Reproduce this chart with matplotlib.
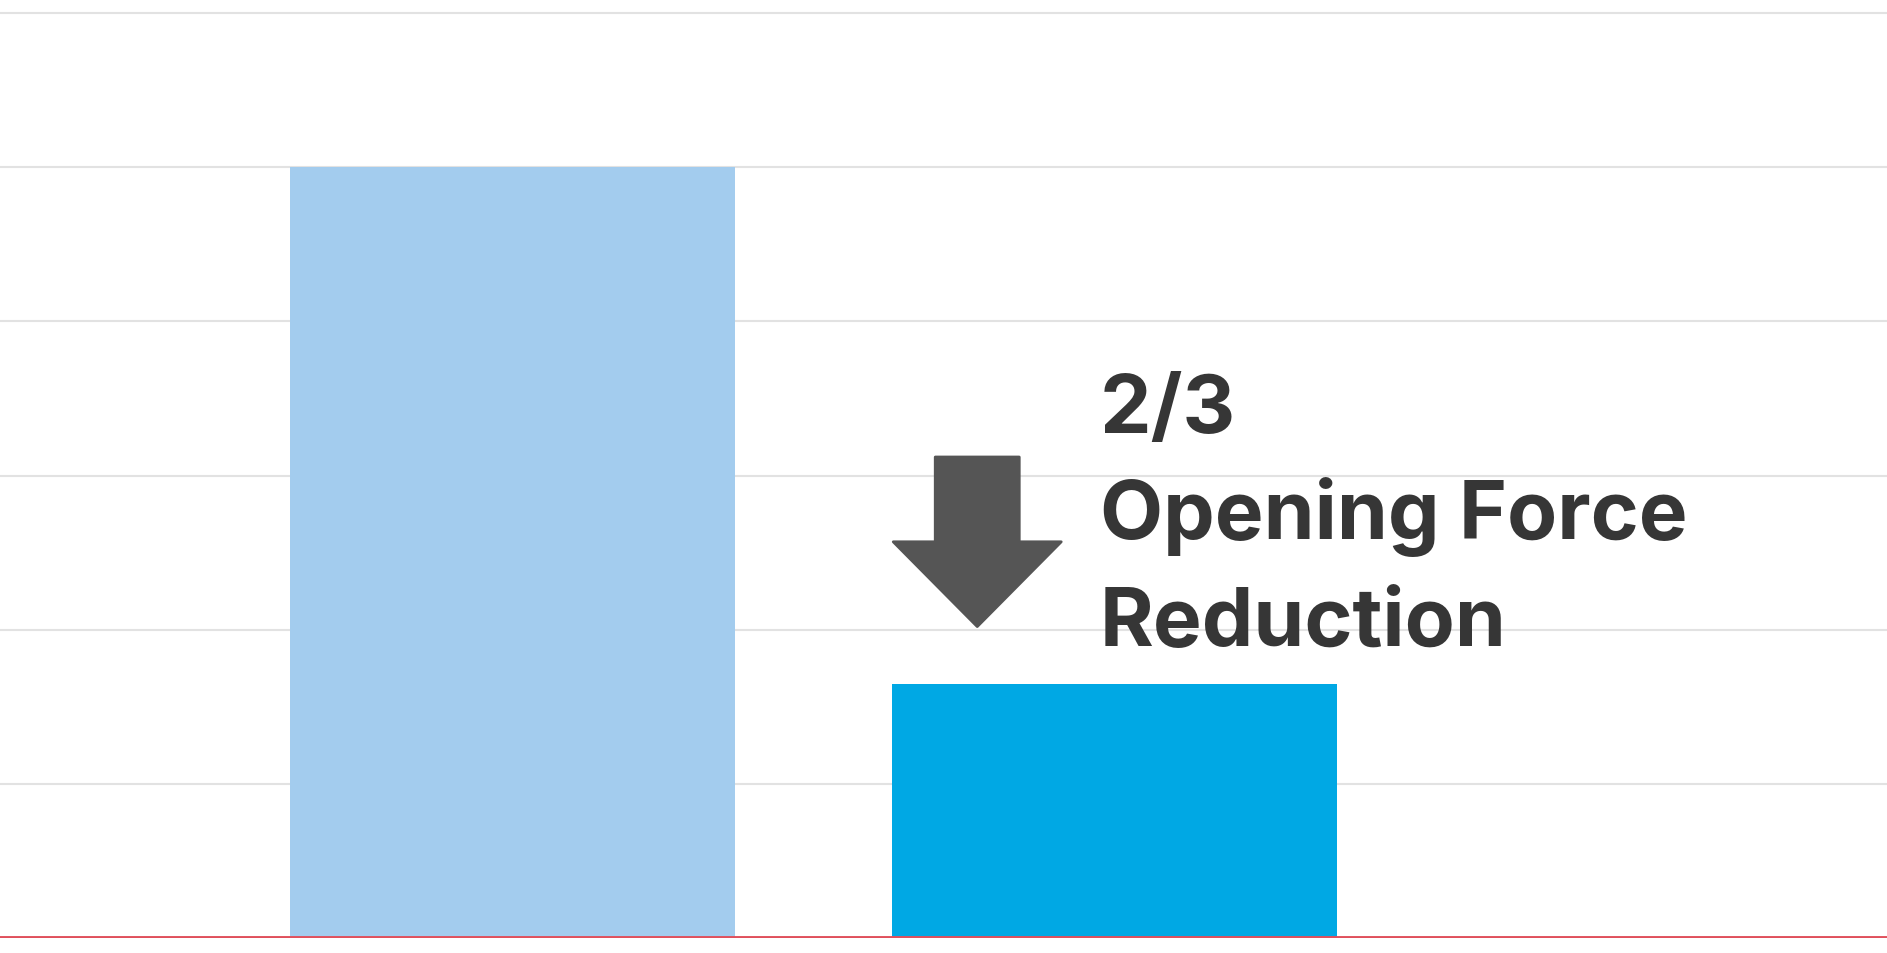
import matplotlib
matplotlib.use("Agg")
import matplotlib.pyplot as plt
from matplotlib.patches import Polygon

# data
categories = ["Before", "After"]
values = [5.0, 1.65]
bar_colors = ["#A3CCEE", "#00A8E4"]
annotation_lines = ["2/3", "Opening Force", "Reduction"]

W, H, DPI = 1887, 954, 100
fig = plt.figure(figsize=(W / DPI, H / DPI), dpi=DPI)
fig.patch.set_facecolor("white")

# axes spans whole width; baseline sits ~15px above figure bottom
ax = fig.add_axes([0, 15 / H, 1, 939 / H])
ax.set_facecolor("white")

x = list(range(len(categories)))
bar_width = 445 / 602
ax.bar(x, values, width=bar_width, color=bar_colors, zorder=2, linewidth=0)

ax.set_xlim(-512.5 / 602, (W - 512.5) / 602)
ax.set_ylim(0, 6 + 14 / 154)
ax.set_yticks(range(0, 7))
ax.grid(axis="y", color="#E2E2E2", linewidth=1.5, zorder=0)
ax.set_axisbelow(True)
ax.axhline(0, color="#E0505C", linewidth=2.8, zorder=3)
for s in ax.spines.values():
    s.set_visible(False)
ax.tick_params(left=False, bottom=False, labelleft=False, labelbottom=False)

# down arrow (data coords)
cx = 0.772
shaft_half = 42 / 602
head_half = 84 / 602
top, head_base, tip = 3.12, 2.57, 2.02
arrow = Polygon(
    [(cx - shaft_half, top), (cx + shaft_half, top), (cx + shaft_half, head_base),
     (cx + head_half, head_base), (cx, tip), (cx - head_half, head_base),
     (cx - shaft_half, head_base)],
    closed=True, facecolor="#555555", edgecolor="#555555",
    linewidth=2, joinstyle="round", zorder=4,
)
ax.add_patch(arrow)

# annotation text
text_x = 0.976
baselines = [3.285, 2.595, 1.9]
for line, yb in zip(annotation_lines, baselines):
    ax.text(text_x, yb, line, fontsize=59, fontweight="bold", family="Inter",
            color="#363636", ha="left", va="baseline", zorder=5)

fig.savefig("out.png", dpi=DPI, facecolor="white")
